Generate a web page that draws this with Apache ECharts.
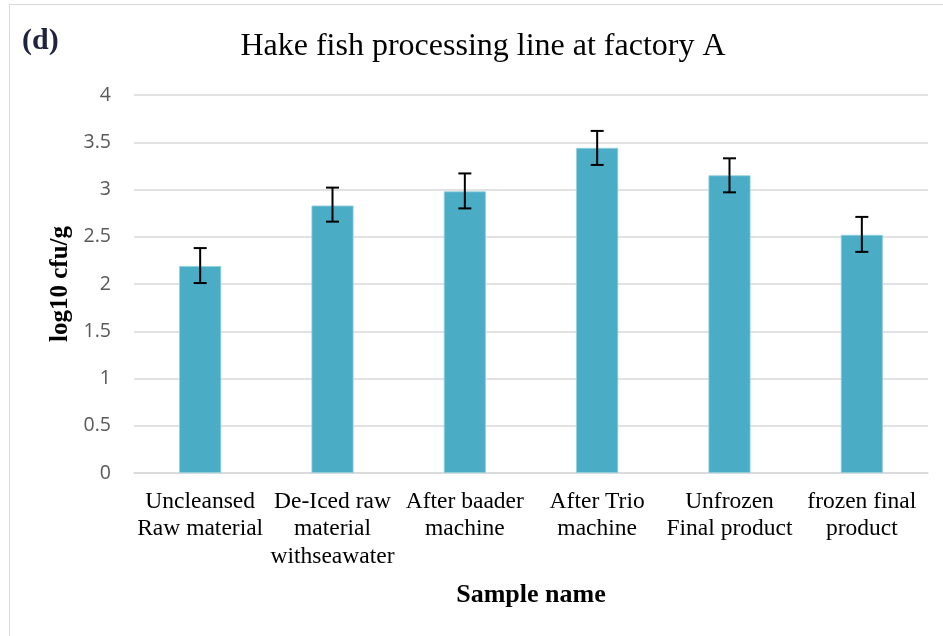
<!DOCTYPE html>
<html>
<head>
<meta charset="utf-8">
<script src="https://cdn.jsdelivr.net/npm/echarts@6/dist/echarts.min.js"></script>
<style>
    html, body { margin: 0; padding: 0; background: #fff; }
    #chart { width: 943px; height: 636px; }
</style>
</head>
<body>
<div id="chart"></div>
<script>
    // sample names (x axis)
    var sampleNames = [
        'Uncleansed\nRaw material',
        'De-Iced raw\nmaterial\nwithseawater',
        'After baader\nmachine',
        'After Trio\nmachine',
        'Unfrozen\nFinal product',
        'frozen final\nproduct'
    ];
    // mean log10 cfu/g
    var meanValues = [2.19, 2.83, 2.98, 3.44, 3.15, 2.52];
    // error bar ends
    var errLow = [2.01, 2.66, 2.80, 3.26, 2.97, 2.34];
    var errHigh = [2.38, 3.02, 3.17, 3.62, 3.33, 2.71];
    // y ticks
    var yMin = 0, yMax = 4, yStep = 0.5;

    var serif = '"Liberation Serif", "DejaVu Serif", serif';
    var myChart = echarts.init(document.getElementById('chart'));

    var errData = sampleNames.map(function (n, i) {
        return [i, errLow[i], errHigh[i]];
    });

    myChart.setOption({
        animation: false,
        backgroundColor: '#fff',
        grid: {
            left: 134,
            right: 15,
            top: 95,
            bottom: 636 - 473
        },
        graphic: [
            {
                type: 'rect',
                shape: { x: 9.5, y: 4.5, width: 1000, height: 1000 },
                style: { fill: 'none', stroke: '#d9d9d9', lineWidth: 1 },
                silent: true
            },
            {
                type: 'text',
                left: 22,
                top: 26,
                style: {
                    text: '(d)',
                    font: 'bold 30px ' + serif,
                    fill: '#1f2340'
                }
            },
            {
                type: 'text',
                x: 483,
                y: 47,
                style: {
                    text: 'Hake fish processing line at factory A',
                    font: '32px ' + serif,
                    fill: '#000',
                    align: 'center',
                    verticalAlign: 'middle'
                }
            }
        ],
        xAxis: {
            type: 'category',
            data: sampleNames,
            name: 'Sample name',
            nameLocation: 'middle',
            nameGap: 109,
            nameTextStyle: {
                fontFamily: serif,
                fontSize: 26,
                fontWeight: 'bold',
                color: '#000'
            },
            axisTick: { show: false },
            axisLine: { lineStyle: { color: '#d9d9d9', width: 1.5 } },
            axisLabel: {
                interval: 0,
                margin: 15,
                fontFamily: serif,
                fontSize: 23.5,
                lineHeight: 27.5,
                color: '#000'
            }
        },
        yAxis: {
            type: 'value',
            min: yMin,
            max: yMax,
            interval: yStep,
            name: 'log10 cfu/g',
            nameLocation: 'middle',
            nameGap: 58,
            nameTextStyle: {
                fontFamily: serif,
                fontSize: 25,
                fontWeight: 'bold',
                color: '#000'
            },
            axisLine: { show: false },
            axisTick: { show: false },
            splitLine: { lineStyle: { color: '#d9d9d9', width: 1.5 } },
            axisLabel: {
                margin: 23,
                fontFamily: '"Open Sans", "Liberation Sans", sans-serif',
                fontSize: 19.5,
                color: '#595959'
            }
        },
        series: [
            {
                name: 'log10 cfu/g',
                type: 'bar',
                data: meanValues,
                barWidth: 42,
                itemStyle: {
                    color: '#4bacc6',
                    borderColor: '#8fcfe0',
                    borderWidth: 0.8
                }
            },
            {
                type: 'custom',
                data: errData,
                z: 10,
                renderItem: function (params, api) {
                    var x = api.value(0);
                    var lo = api.coord([x, api.value(1)]);
                    var hi = api.coord([x, api.value(2)]);
                    var cap = 6.5;
                    var st = { stroke: '#000', lineWidth: 2 };
                    return {
                        type: 'group',
                        children: [
                            { type: 'line', shape: { x1: lo[0], y1: lo[1], x2: hi[0], y2: hi[1] }, style: st },
                            { type: 'line', shape: { x1: hi[0] - cap, y1: hi[1], x2: hi[0] + cap, y2: hi[1] }, style: st },
                            { type: 'line', shape: { x1: lo[0] - cap, y1: lo[1], x2: lo[0] + cap, y2: lo[1] }, style: st }
                        ]
                    };
                }
            }
        ]
    });
</script>
</body>
</html>
